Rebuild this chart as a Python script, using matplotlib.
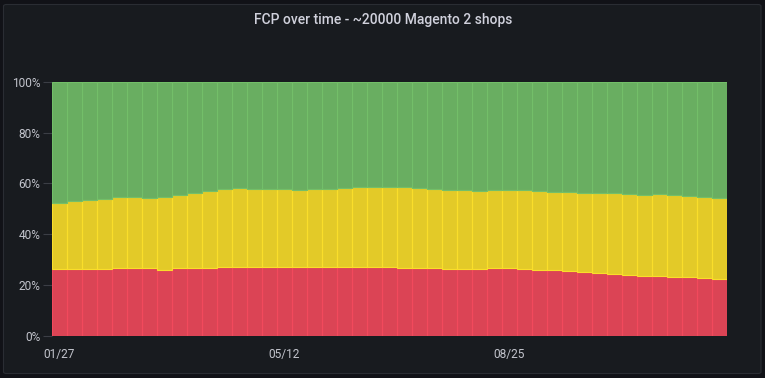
import matplotlib
matplotlib.use("Agg")
import matplotlib.pyplot as plt
from matplotlib.patches import FancyBboxPatch
import numpy as np

# ---- data (percent of shops per week) ----
dates = ["01/27", "02/03", "02/10", "02/17", "02/24", "03/03", "03/10", "03/17", "03/24",
         "03/31", "04/07", "04/14", "04/21", "04/28", "05/05", "05/12", "05/19", "05/26",
         "06/02", "06/09", "06/16", "06/23", "06/30", "07/07", "07/14", "07/21", "07/28",
         "08/04", "08/11", "08/18", "08/25", "09/01", "09/08", "09/15", "09/22", "09/29",
         "10/06", "10/13", "10/20", "10/27", "11/03", "11/10", "11/17", "11/24", "12/01"]
poor = [26.1, 26.1, 26.1, 26.1, 26.5, 26.5, 26.5, 26.0, 26.5, 26.5, 26.8, 27.2, 27.2, 27.2, 27.2,
        27.2, 27.2, 27.2, 27.2, 27.2, 27.2, 27.2, 27.2, 26.8, 26.8, 26.8, 26.4, 26.4, 26.4, 26.8,
        26.8, 26.4, 26.0, 26.0, 25.6, 25.2, 24.8, 24.4, 24.0, 23.6, 23.6, 23.2, 23.2, 22.8, 22.4]
needs_improvement = [26.1, 26.9, 27.5, 27.7, 28.1, 28.1, 27.7, 28.6, 28.9, 29.7, 30.2, 30.6, 31.0,
                     30.6, 30.6, 30.6, 30.2, 30.6, 30.6, 31.0, 31.4, 31.4, 31.4, 31.8, 31.4, 31.0,
                     31.0, 31.0, 30.6, 30.6, 30.6, 31.0, 31.0, 30.6, 31.0, 31.0, 31.4, 31.8, 31.8,
                     31.8, 32.2, 32.2, 31.8, 31.8, 31.8]
good = [47.8, 47.0, 46.4, 46.2, 45.4, 45.4, 45.8, 45.4, 44.6, 43.8, 43.0, 42.2, 41.8, 42.2, 42.2,
        42.2, 42.6, 42.2, 42.2, 41.8, 41.4, 41.4, 41.4, 41.4, 41.8, 42.2, 42.6, 42.6, 43.0, 42.6,
        42.6, 42.6, 43.0, 43.4, 43.4, 43.8, 43.8, 43.8, 44.2, 44.6, 44.2, 44.6, 45.0, 45.4, 45.8]
x_tick_labels = ["01/27", "05/12", "08/25"]
y_ticks = [0, 20, 40, 60, 80, 100]
title = "FCP over time - ~20000 Magento 2 shops"

W, H = 765, 378
fig = plt.figure(figsize=(W / 100, H / 100), dpi=100)
fig.patch.set_facecolor("#111217")

panel = FancyBboxPatch((3.5 / W, 4.5 / H), 757.5 / W, 369 / H,
                       boxstyle="round,pad=0,rounding_size=0.004",
                       transform=fig.transFigure, facecolor="#181b1f",
                       edgecolor="#2a2d33", linewidth=0.8, zorder=-5)
fig.patches.append(panel)

left, right, top, bottom = 52, 727, 82, 335.7
ax = fig.add_axes([left / W, (H - bottom) / H, (right - left) / W, (bottom - top) / H])
ax.set_facecolor("none")
ax.set_zorder(2)

x = np.arange(len(dates))
p = np.array(poor)
n = np.array(needs_improvement)
g = np.array(good)

series = [
    (p, np.zeros_like(p), "#F2495C"),
    (n, p, "#FADE2A"),
    (g, p + n, "#73BF69"),
]
for vals, base, col in series:
    rgba = matplotlib.colors.to_rgba(col, 0.9)
    ax.bar(x, vals, bottom=base, width=1.0, facecolor=rgba, edgecolor=col,
           linewidth=0.8, zorder=2)

ax.set_xlim(-0.5, len(dates) - 0.5)
ax.set_ylim(0, 100)
ax.set_yticks(y_ticks)
ax.set_yticklabels([f"{v}%" for v in y_ticks])
ax.set_xticks([dates.index(d) for d in x_tick_labels])
ax.set_xticklabels(x_tick_labels)

for s in ax.spines.values():
    s.set_visible(False)
ax.tick_params(axis="y", length=6.5, width=0.8, color="#3b3e45", pad=2,
               labelsize=8.6, labelcolor="#c2c4cc")
ax.tick_params(axis="x", length=0, pad=9, labelsize=8.6, labelcolor="#c2c4cc")
for lab in ax.get_xticklabels() + ax.get_yticklabels():
    lab.set_fontfamily("Roboto")

fig.text(383 / W, 1 - 20 / H, title, ha="center", va="center", color="#d0d1dc",
         fontsize=10.0, fontfamily="Roboto", fontweight="medium")

fig.savefig("out.png", dpi=100, facecolor=fig.get_facecolor())
